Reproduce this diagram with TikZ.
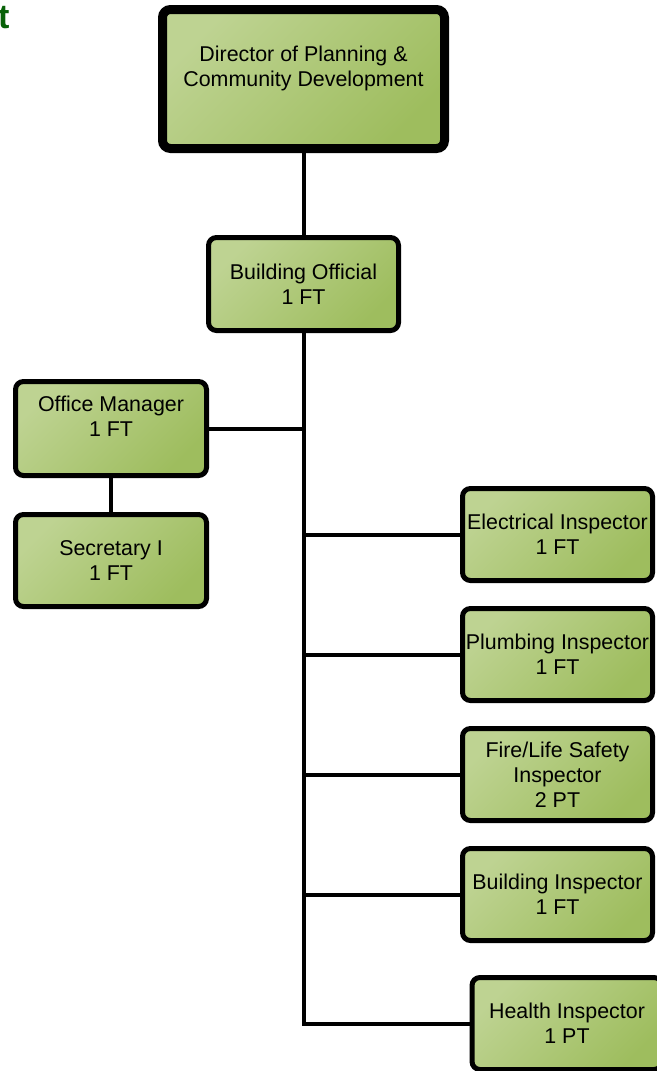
\documentclass[tikz,border=0pt]{standalone}
\usepackage{xcolor}
\usepackage{fontspec}
\setmainfont{Liberation Sans}
\usepackage{tikz}
\usetikzlibrary{positioning}

\definecolor{boxlight}{RGB}{190,211,146}
\definecolor{boxdark}{RGB}{158,189,94}
\definecolor{titlegreen}{RGB}{8,98,8}

\begin{document}
\begin{tikzpicture}[x=1pt,y=-1pt]
	\tikzset{post/.style={rectangle,rounded corners=8pt,draw=black,line width=5pt,
			top color=boxlight,bottom color=boxdark,shading angle=45,
			align=center,font=\fontsize{21.4}{25}\selectfont,inner sep=0pt,
			minimum width=190pt,minimum height=92pt},
		link/.style={line width=4pt}}

\useasboundingbox (0,0) rectangle (656,1071);

\node[font=\bfseries\fontsize{34}{34}\selectfont,text=titlegreen,anchor=base west,inner sep=0pt] (title) at (-2,28) {t};

\node[post,line width=9pt,minimum width=282pt,minimum height=139pt] (dir) at (303.5,79) {Director of Planning \&\\Community Development\\\mbox{}};

\node[post,minimum height=93pt] (bo) at (303.5,284) {Building Official\\1 FT};

\node[post,minimum width=191pt,minimum height=94pt] (om) at (111,428.5) {Office Manager\\1 FT\\\mbox{}};
\node[post,minimum width=191pt] (sec) [below = 34pt of om] {Secretary I\\1 FT};

\node[post] (elec) at (557.5,534.5) {Electrical Inspector\\1 FT};
\node[post] (plumb) [below = 23pt of elec] {Plumbing Inspector\\1 FT};
\node[post] (fire) [below = 23pt of plumb] {Fire/Life Safety\\Inspector\\2 PT};
\node[post] (bldg) [below = 23pt of fire] {Building Inspector\\1 FT};
\node[post] (health) [below = 32pt of bldg, xshift=9.5pt] {Health Inspector\\1 PT};

\draw[link] (dir) -- (bo);
\draw[link] (bo.south) |- (health.west);
\draw[link] (om.east) -- (om.east -| bo.south);
\draw[link] (om) -- (sec);
\foreach \n in {elec,plumb,fire,bldg}
	\draw[link] (\n.west) -- (\n.west -| bo.south);
\end{tikzpicture}
\end{document}
